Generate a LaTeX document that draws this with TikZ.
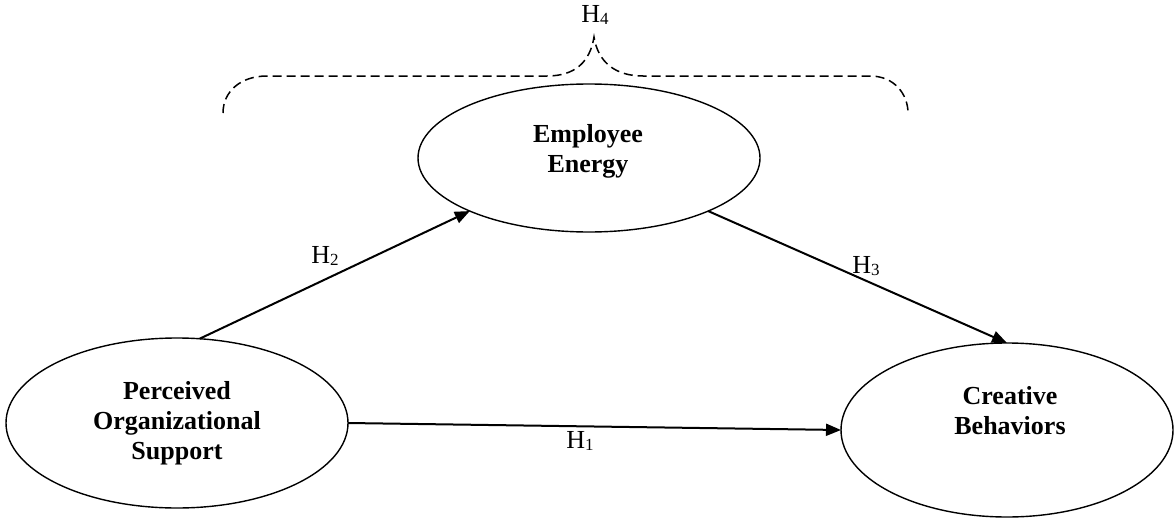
\documentclass[tikz,border=0pt]{standalone}
\usepackage{fontspec}
\setmainfont{Liberation Serif}
\usetikzlibrary{shapes.geometric,arrows.meta}
\tikzset{
  construct/.style={ellipse, draw=black, line width=1.4pt, inner sep=0pt, outer sep=0pt},
  nodetext/.style={align=center, inner sep=0pt, font=\fontsize{26}{30}\selectfont\bfseries},
  hlabel/.style={anchor=base, inner sep=0pt, font=\fontsize{26}{30}\selectfont},
  arr/.style={line width=2pt, -{Triangle[length=15pt,width=12pt]}},
  bracestyle/.style={line width=1.5pt, dash pattern=on 9pt off 5pt}
}
\newcommand{\hyp}[1]{H\raisebox{-2pt}{\fontsize{17}{17}\selectfont #1}}
\begin{document}
\begin{tikzpicture}[x=1pt,y=-1pt]
\useasboundingbox (0,0) rectangle (1174,519);
% constructs
\node[construct, minimum width=342pt, minimum height=170pt] (pos) at (177,423) {};
\node[construct, minimum width=342pt, minimum height=148pt] (ee) at (589,158) {};
\node[construct, minimum width=332pt, minimum height=174pt] (cb) at (1007,430) {};
\node[nodetext] (postext) at (177,423) {Perceived\\Organizational\\Support};
\node[nodetext] (eetext) at (588,151.5) {Employee\\Energy};
\node[nodetext] (cbtext) at (1010,411) {Creative\\Behaviors};
% arrows
\draw[arr] (pos.75) -- (ee.204);
\draw[arr] (ee.336) -- (cb.north);
\draw[arr] (pos.east) -- (cb.west);
% labels
\node[hlabel] (h1) at (580,448) {\hyp{1}};
\node[hlabel] (h2) at (325,263) {\hyp{2}};
\node[hlabel] (h3) at (866,273) {\hyp{3}};
\node[hlabel] (h4) at (595,23) {\hyp{4}};
% dashed brace
\coordinate (bl) at (223,113);
\coordinate (cusp) at (594,37);
\coordinate (br) at (908,113);
\draw[bracestyle] (bl) .. controls (223,92) and (240,76) .. (267,76)
  -- (547,76) .. controls (575,76) and (590,62) .. (cusp)
  .. controls (598,62) and (615,76) .. (643,76)
  -- (870,76) .. controls (895,76) and (908,95) .. (br);
\end{tikzpicture}
\end{document}
